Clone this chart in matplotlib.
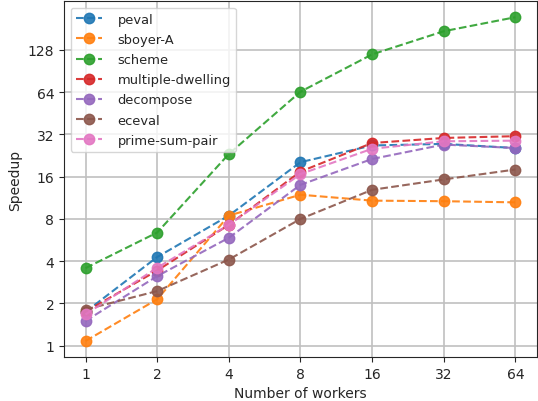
import matplotlib
matplotlib.use("Agg")
import matplotlib.pyplot as plt

workers = [1, 2, 4, 8, 16, 32, 64]

peval = [1.74, 4.28, 8.45, 20.3, 26.7, 27.4, 25.6]
sboyer_a = [1.08, 2.14, 8.45, 11.9, 10.8, 10.7, 10.5]
scheme = [3.57, 6.4, 23.2, 64.5, 119, 174, 219]
multiple_dwelling = [1.75, 3.43, 7.26, 17.4, 27.8, 30.2, 31.1]
decompose = [1.50, 3.13, 5.87, 14.0, 21.4, 27.1, 25.6]
eceval = [1.81, 2.45, 4.11, 8.0, 12.9, 15.3, 18.0]
prime_sum_pair = [1.67, 3.59, 7.26, 16.7, 25.3, 28.6, 28.9]

series = [
    ("peval", peval),
    ("sboyer-A", sboyer_a),
    ("scheme", scheme),
    ("multiple-dwelling", multiple_dwelling),
    ("decompose", decompose),
    ("eceval", eceval),
    ("prime-sum-pair", prime_sum_pair),
]

yticks = [1, 2, 4, 8, 16, 32, 64, 128]

dark = "#262626"
plt.rcParams.update({
    "text.color": dark,
    "axes.labelcolor": dark,
    "axes.edgecolor": dark,
    "xtick.color": dark,
    "ytick.color": dark,
})

fig = plt.figure(figsize=(5.38, 4.02), dpi=100)
ax = fig.add_axes([0.119, 0.109, 0.879, 0.886])

for name, vals in series:
    ax.plot(workers, vals, "--o", label=name, markersize=7.5, linewidth=1.5, alpha=0.9)

ax.set_xscale("log", base=2)
ax.set_yscale("log", base=2)
ax.set_xticks(workers)
ax.set_xticklabels([str(w) for w in workers])
ax.set_yticks(yticks)
ax.set_yticklabels([str(t) for t in yticks])
ax.minorticks_off()
ax.grid(True, color="#c0c0c0", linewidth=1.2)
ax.set_axisbelow(True)
ax.set_xlabel("Number of workers")
ax.set_ylabel("Speedup")
ax.legend(loc="upper left", fontsize=9.4, labelspacing=0.55, handletextpad=1.2)

fig.savefig("out.png", dpi=100)
